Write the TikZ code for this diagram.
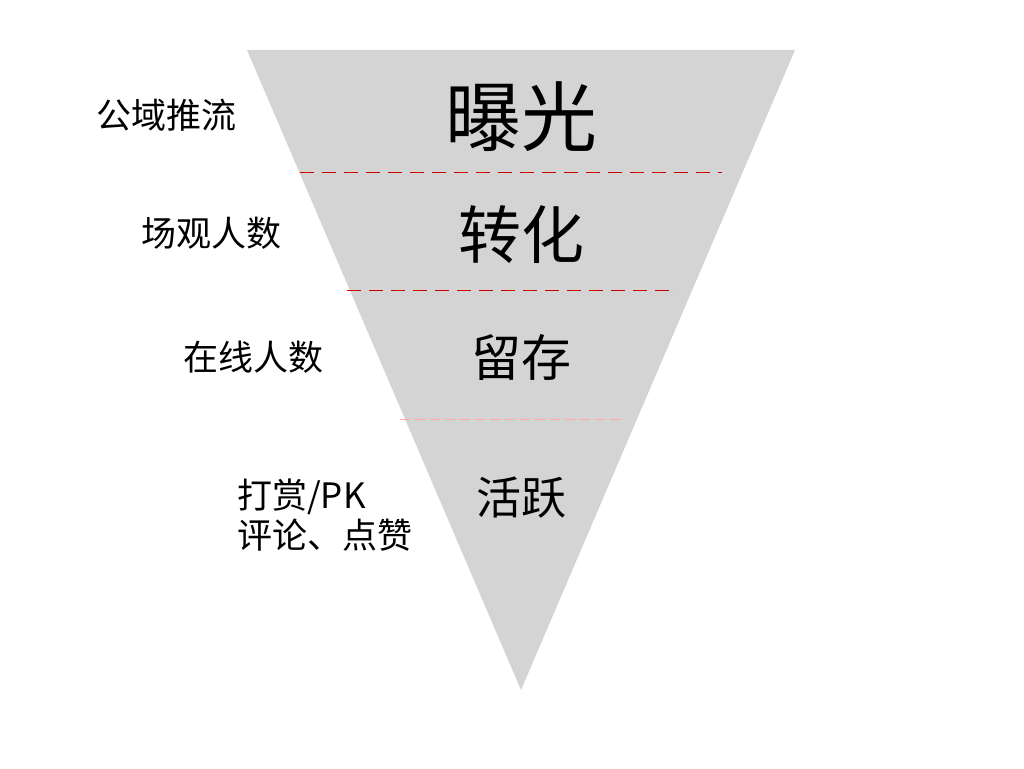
\documentclass[tikz,border=0pt]{standalone}
\usepackage{fontspec}
\newfontfamily\cjk{Noto Sans CJK SC}
\begin{document}
\begin{tikzpicture}[x=1pt,y=-1pt,
  lbl/.style={font=\cjk, inner sep=0pt},
  side/.style={lbl, font=\cjk\fontsize{35}{40}\selectfont},
  cut/.style={draw=red!80!black, dash pattern=on 14pt off 8pt, line width=1pt}]
\useasboundingbox (0,0) rectangle (1024,768);
\fill[fill=white] (0,0) rectangle (1024,768);
\fill[fill=black!17] (247,50) -- (795,50) -- (521,690) -- cycle;
\draw[cut] (300,172) -- (722,172);
\draw[cut] (347,290) -- (677,290);
\draw[draw=red!35, dash pattern=on 10pt off 5pt, line width=0.6pt] (400,419) -- (622,419);
\node[lbl, font=\cjk\fontsize{76}{80}\selectfont] (a) at (521,117) {曝光};
\node[lbl, font=\cjk\fontsize{63}{68}\selectfont] (b) at (521,235) {转化};
\node[lbl, font=\cjk\fontsize{50}{54}\selectfont] (c) at (521,357) {留存};
\node[lbl, font=\cjk\fontsize{45}{50}\selectfont] (d) at (521,498) {活跃};
\node[side] (e) at (166,115) {公域推流};
\node[side] (f) at (211,233) {场观人数};
\node[side] (g) at (253,357) {在线人数};
\node[side, anchor=west] (h) at (237,497) {打赏/PK};
\node[side, anchor=west] (i) at (237,535) {评论、点赞};
\end{tikzpicture}
\end{document}
